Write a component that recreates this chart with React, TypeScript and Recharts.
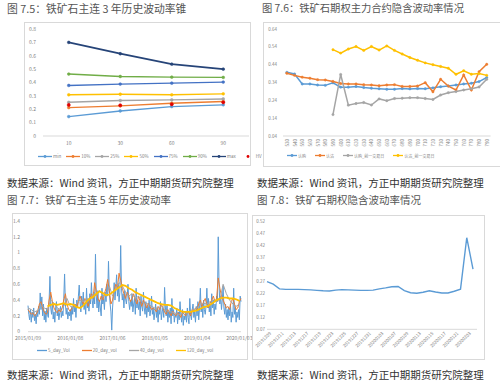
import React from "react";
import { ComposedChart, LineChart, Line, XAxis, YAxis } from "recharts";

const FONT = '"Noto Sans CJK SC", "Noto Sans", sans-serif';
const AXIS = "#d9d9d9";
const TICK_COLOR = "#7f7f7f";
const tickStyle = { fill: TICK_COLOR, fontSize: 5, fontFamily: FONT };

// 图 7.5 铁矿石主连 3 年历史波动率锥
const coneDays = ["10", "30", "60", "90"];
const coneMin = [0.145, 0.187, 0.22, 0.233];
const cone10 = [0.212, 0.225, 0.245, 0.258];
const cone25 = [0.252, 0.265, 0.27, 0.277];
const cone50 = [0.308, 0.312, 0.308, 0.315];
const cone75 = [0.378, 0.388, 0.395, 0.403];
const cone90 = [0.463, 0.445, 0.44, 0.438];
const coneMax = [0.7, 0.615, 0.537, 0.5];
const coneHV = [0.232, 0.23, 0.237, 0.252];
const coneTicks = [0, 0.1, 0.2, 0.3, 0.4, 0.5, 0.6, 0.7, 0.8];

// 图 7.6 铁矿石期权主力合约隐含波动率情况
const strikes = [
  "530", "540", "550", "560", "570", "580", "590", "600", "610", "620", "630", "640", "650", "660",
  "670", "680", "690", "700", "710", "720", "730", "740", "750", "760", "770", "780", "790",
];
const callIV = [
  0.397, 0.388, 0.332, 0.332, 0.326, 0.324, 0.338, 0.314, 0.314, 0.318, 0.312, 0.308, 0.305, 0.302,
  0.302, 0.306, 0.304, 0.306, 0.305, 0.31, 0.316, 0.32, 0.326, 0.332, 0.336, 0.345, 0.368,
];
const putIV = [
  0.392, 0.38, 0.37, 0.364, 0.356, 0.354, 0.346, 0.334, 0.332, 0.332, 0.328, 0.326, 0.322, 0.326,
  0.328, 0.318, 0.318, 0.32, 0.339, 0.288, 0.358, 0.32, 0.298, 0.382, 0.298, 0.4, 0.442,
];
const callIVPrev = [
  null, null, null, null, null, null, 0.16, 0.385, 0.213, 0.222, 0.228, 0.214, 0.248, 0.238,
  0.25, 0.252, 0.255, 0.255, 0.25, 0.245, 0.27, 0.283, 0.289, 0.298, 0.305, 0.315, 0.358,
];
const putIVPrev = [
  null, null, null, null, null, null, 0.524, 0.505, 0.528, 0.542, 0.52, 0.542, 0.522, 0.545,
  0.52, 0.5, 0.48, 0.465, 0.45, 0.44, 0.43, 0.42, 0.386, 0.406, 0.386, 0.39, 0.38,
];
const strikeTicks = [0.04, 0.14, 0.24, 0.34, 0.44, 0.54, 0.64];

// 图 7.7 铁矿石主连 5 年历史波动率 (weekly grid from 2015/01/09)
const hvYearWeeks = [0, 52, 104, 156, 208, 260];
const hvYearLabels = ["2015/01/09", "2016/01/08", "2017/01/06", "2018/01/05", "2019/01/04", "2020/01/03"];
const vol5Day = [
  0.33, 0.22, 0.15, 0.28, 0.12, 0.25, 0.18, 0.3, 0.14, 0.22, 0.1, 0.26, 0.19,
  0.32, 0.22, 0.49, 0.28, 0.44, 0.2, 0.35, 0.15, 0.26, 0.12, 0.3, 0.22, 0.18,
  0.4, 0.7, 0.3, 0.22, 0.38, 0.16, 0.25, 0.12, 0.3, 0.38, 0.2, 0.28, 0.15,
  0.24, 0.32, 0.18, 0.26, 0.2, 0.42, 0.73, 0.35, 0.22, 0.3, 0.16, 0.25, 0.2,
  0.28, 0.14, 0.32, 0.22, 0.42, 0.25, 0.35, 0.18, 0.4, 0.3, 0.45, 0.59, 0.38,
  0.25, 0.45, 0.32, 0.5, 0.28, 0.36, 0.22, 0.55, 0.3, 0.42, 0.26, 0.48, 0.35,
  0.62, 0.4, 0.3, 0.5, 0.35, 0.98, 0.45, 0.3, 0.52, 0.25, 0.4, 0.3, 0.2,
  0.55, 0.35, 0.42, 0.28, 0.5, 0.38, 0.6, 0.45, 0.89, 0.5, 0.35, 0.25, 0.02,
  0.3, 0.45, 0.62, 0.4, 0.55, 0.72, 0.45, 0.6, 0.38, 0.5, 1.09, 0.55, 0.4,
  0.48, 0.3, 0.52, 0.42, 0.35, 0.45, 0.6, 0.38, 0.28, 0.4, 0.32, 0.48, 0.25,
  0.35, 0.42, 0.22, 0.55, 0.3, 0.4, 0.28, 0.38, 0.2, 0.45, 0.32, 0.26, 0.5,
  0.3, 0.22, 0.38, 0.18, 0.32, 0.25, 0.4, 0.2, 0.28, 0.45, 0.22, 0.3, 0.15,
  0.25, 0.35, 0.18, 0.3, 0.12, 0.28, 0.22, 0.38, 0.15, 0.25, 0.3, 0.18, 0.56,
  0.3, 0.2, 0.35, 0.12, 0.25, 0.18, 0.3, 0.1, 0.42, 0.2, 0.28, 0.12, 0.22,
  0.18, 0.3, 0.1, 0.25, 0.15, 0.38, 0.22, 0.12, 0.28, 0.08, 0.2, 0.15, 0.25,
  0.12, 0.3, 0.18, 0.1, 0.42, 0.22, 0.15, 0.28, 0.35, 0.18, 0.25, 0.12, 0.32,
  0.2, 0.38, 0.15, 0.3, 0.55, 0.25, 0.35, 0.18, 0.4, 0.28, 0.22, 0.32, 0.55,
  0.3, 0.42, 0.25, 0.35, 0.2, 0.48, 0.3, 0.4, 0.22, 0.35, 0.28, 0.45, 0.38,
  1.2, 0.6, 0.35, 0.45, 0.28, 0.4, 0.58, 0.3, 0.22, 0.35, 0.18, 0.28, 0.15,
  0.3, 0.2, 0.35, 0.12, 0.25, 0.18, 0.55, 0.22, 0.3, 0.12, 0.25, 0.18, 0.28,
  0.15, 0.45, 0.38,
];
// every 2 weeks
const vol20Day = [
  0.28, 0.25, 0.22, 0.24, 0.2, 0.22, 0.26, 0.35, 0.38, 0.3, 0.25, 0.22, 0.24,
  0.4, 0.5, 0.38, 0.3, 0.26, 0.24, 0.28, 0.25, 0.3, 0.4, 0.48, 0.35, 0.28,
  0.26, 0.3, 0.32, 0.35, 0.3, 0.38, 0.45, 0.4, 0.35, 0.42, 0.38, 0.32, 0.4,
  0.48, 0.42, 0.62, 0.5, 0.42, 0.38, 0.45, 0.4, 0.48, 0.55, 0.66, 0.52, 0.35,
  0.4, 0.52, 0.6, 0.55, 0.74, 0.65, 0.55, 0.48, 0.42, 0.5, 0.45, 0.38, 0.42,
  0.48, 0.4, 0.35, 0.45, 0.38, 0.32, 0.4, 0.35, 0.3, 0.36, 0.32, 0.28, 0.3,
  0.28, 0.25, 0.32, 0.28, 0.35, 0.3, 0.25, 0.22, 0.28, 0.24, 0.2, 0.26, 0.22,
  0.2, 0.24, 0.22, 0.18, 0.25, 0.22, 0.2, 0.26, 0.24, 0.2, 0.28, 0.25, 0.3,
  0.28, 0.35, 0.4, 0.32, 0.38, 0.42, 0.35, 0.3, 0.36, 0.4, 0.45, 0.38, 0.42,
  0.68, 0.55, 0.45, 0.4, 0.35, 0.3, 0.32, 0.28, 0.38, 0.42, 0.35, 0.28, 0.3,
  0.38, 0.42,
];
// every 4 weeks
const vol40Day = [
  0.3, 0.28, 0.25, 0.27, 0.33, 0.3, 0.28, 0.4, 0.36, 0.3, 0.28, 0.32, 0.42,
  0.32, 0.3, 0.36, 0.4, 0.38, 0.42, 0.4, 0.48, 0.45, 0.52, 0.46, 0.45, 0.58,
  0.45, 0.55, 0.62, 0.58, 0.5, 0.45, 0.48, 0.42, 0.45, 0.38, 0.36, 0.35, 0.32,
  0.3, 0.3, 0.32, 0.28, 0.26, 0.25, 0.24, 0.22, 0.22, 0.24, 0.23, 0.25, 0.28,
  0.3, 0.34, 0.36, 0.35, 0.38, 0.4, 0.38, 0.4, 0.6, 0.48, 0.4, 0.35, 0.32,
  0.35,
];
// every 4 weeks, from week 24
const vol120Day = [
  0.32, 0.34, 0.35, 0.34, 0.35, 0.36, 0.34, 0.35, 0.34, 0.31, 0.3, 0.33, 0.38, 0.42, 0.44,
  0.48, 0.51, 0.49, 0.46, 0.47, 0.5, 0.53, 0.56, 0.59, 0.58, 0.55, 0.53, 0.5, 0.48, 0.46,
  0.44, 0.42, 0.4, 0.38, 0.36, 0.35, 0.34, 0.34, 0.33, 0.3, 0.28, 0.26, 0.25, 0.25, 0.25,
  0.26, 0.27, 0.29, 0.31, 0.32, 0.34, 0.37, 0.4, 0.42, 0.43, 0.43, 0.42, 0.42, 0.41, 0.39,
];
const hvTicks = [0, 0.2, 0.4, 0.6, 0.8, 1, 1.2, 1.4];

// 图 7.8 铁矿石期权隐含波动率情况
const ivDates = [
  "20191209", "20191210", "20191211", "20191212", "20191213", "20191216", "20191217", "20191218",
  "20191219", "20191220", "20191223", "20191224", "20191225", "20191226", "20191227", "20191230",
  "20191231", "20200102", "20200103", "20200106", "20200107", "20200108", "20200109", "20200110",
  "20200113", "20200114", "20200115", "20200116", "20200117", "20200120", "20200121", "20200122",
  "20200203", "20200204",
];
const ivValues = [
  0.269, 0.259, 0.239, 0.237, 0.237, 0.237, 0.236, 0.235, 0.233, 0.231, 0.23, 0.234, 0.236, 0.235,
  0.234, 0.233, 0.233, 0.234, 0.239, 0.243, 0.248, 0.249, 0.232, 0.223, 0.221, 0.225, 0.231, 0.226,
  0.222, 0.222, 0.229, 0.238, 0.453, 0.322,
];
const ivAxisTicks = [0.07, 0.12, 0.17, 0.22, 0.27, 0.32, 0.37, 0.42, 0.47, 0.52];

const SOURCE = "数据来源：Wind 资讯，方正中期期货研究院整理";

function Caption({ text, left, top, size, color }: { text: string; left: number; top: number; size: number; color: string }) {
  return (
    <div style={{ position: "absolute", left, top, fontSize: size, lineHeight: 1, color, fontFamily: FONT, whiteSpace: "nowrap" }}>
      {text}
    </div>
  );
}

function Frame({ left, top, width, height, noRight, className, children }: any) {
  return (
    <div className={className} style={{ position: "absolute", left, top, width, height }}>
      <div
        style={{
          position: "absolute",
          inset: 0,
          border: `1px solid ${AXIS}`,
          borderRight: noRight ? "none" : `1px solid ${AXIS}`,
          boxSizing: "border-box",
        }}
      />
      <div style={{ position: "absolute", left: 0, top: 0 }}>{children}</div>
    </div>
  );
}

type LegendEntry = { label: string; color: string; line?: boolean; marker?: boolean };

function MiniLegend({ items, left, top, gap, fontSize, lineLen, strokeWidth }: any) {
  return (
    <div
      style={{
        position: "absolute",
        left,
        top,
        display: "flex",
        alignItems: "center",
        gap,
        fontSize,
        lineHeight: 1,
        fontFamily: FONT,
        color: TICK_COLOR,
        whiteSpace: "nowrap",
      }}
    >
      {items.map((it: LegendEntry) => (
        <div key={it.label} style={{ display: "flex", alignItems: "center", gap: 1 }}>
          <svg width={lineLen} height={5} style={{ display: "block" }}>
            {it.line !== false && (
              <line x1={0} y1={2.5} x2={lineLen} y2={2.5} stroke={it.color} strokeWidth={strokeWidth} />
            )}
            {it.marker && <circle cx={lineLen / 2} cy={2.5} r={1.4} fill={it.color} />}
          </svg>
          <span>{it.label}</span>
        </div>
      ))}
    </div>
  );
}

function StrikeTick({ x, y, payload }: any) {
  return (
    <text
      x={x}
      y={y}
      transform={`rotate(-90 ${x} ${y})`}
      textAnchor="end"
      dominantBaseline="central"
      fill={TICK_COLOR}
      fontSize={4.5}
      fontFamily={FONT}
    >
      {payload.value}
    </text>
  );
}

function DateTick({ x, y, payload }: any) {
  return (
    <text
      x={x + 3}
      y={y}
      transform={`rotate(-45 ${x + 3} ${y})`}
      textAnchor="end"
      dominantBaseline="central"
      fill={TICK_COLOR}
      fontSize={4.5}
      fontFamily={FONT}
    >
      {payload.value}
    </text>
  );
}

const fmt1 = (v: number) => String(Number(v.toFixed(1)));
const fmt2 = (v: number) => v.toFixed(2);

function ConeChart() {
  const data = coneDays.map((d, i) => ({
    d,
    min: coneMin[i],
    p10: cone10[i],
    p25: cone25[i],
    p50: cone50[i],
    p75: cone75[i],
    p90: cone90[i],
    max: coneMax[i],
    hv: coneHV[i],
  }));
  const series = [
    { key: "min", color: "#5b9bd5" },
    { key: "p10", color: "#ed7d31" },
    { key: "p25", color: "#a5a5a5" },
    { key: "p50", color: "#ffc000" },
    { key: "p75", color: "#4472c4" },
    { key: "p90", color: "#70ad47" },
    { key: "max", color: "#264478" },
  ];
  return (
    <ComposedChart width={227} height={144} data={data} margin={{ top: 7, right: 2, bottom: 10, left: 0 }}>
      <XAxis
        dataKey="d"
        scale="band"
        tick={tickStyle}
        tickLine={false}
        axisLine={{ stroke: AXIS }}
        tickSize={3}
        tickMargin={2}
        height={20}
        interval={0}
      />
      <YAxis
        domain={[0, 0.8]}
        ticks={coneTicks}
        width={19}
        tick={tickStyle}
        tickLine={false}
        axisLine={false}
        tickSize={5}
        tickMargin={2}
        tickFormatter={fmt1}
        interval={0}
      />
      {series.map((s) => (
        <Line
          key={s.key}
          dataKey={s.key}
          stroke={s.color}
          strokeWidth={s.key === "max" ? 1.8 : 1.4}
          dot={{ r: 1.4, fill: s.color, stroke: s.color, strokeWidth: 0.5 }}
          isAnimationActive={false}
        />
      ))}
      <Line
        dataKey="hv"
        stroke="none"
        dot={{ r: 1.6, fill: "#e00000", stroke: "#e00000", strokeWidth: 0.5 }}
        isAnimationActive={false}
      />
    </ComposedChart>
  );
}

function StrikeChart() {
  const data = strikes.map((k, i) => ({
    k,
    call: callIV[i],
    put: putIV[i],
    callPrev: callIVPrev[i],
    putPrev: putIVPrev[i],
  }));
  const series = [
    { key: "call", color: "#5b9bd5" },
    { key: "put", color: "#ed7d31" },
    { key: "callPrev", color: "#a5a5a5" },
    { key: "putPrev", color: "#ffc000" },
  ];
  return (
    <ComposedChart width={237} height={145} data={data} margin={{ top: 7, right: 9.4, bottom: 9, left: 0 }}>
      <XAxis
        dataKey="k"
        scale="band"
        tick={<StrikeTick />}
        tickLine={false}
        axisLine={{ stroke: AXIS }}
        tickSize={2}
        tickMargin={1}
        height={22}
        interval={0}
      />
      <YAxis
        domain={[0.04, 0.64]}
        ticks={strikeTicks}
        width={20}
        tick={{ ...tickStyle, fontSize: 4.5 }}
        tickLine={false}
        axisLine={false}
        tickSize={4}
        tickMargin={2}
        tickFormatter={fmt2}
        interval={0}
      />
      {series.map((s) => (
        <Line
          key={s.key}
          dataKey={s.key}
          stroke={s.color}
          strokeWidth={1.5}
          dot={{ r: 1.2, fill: s.color, stroke: s.color, strokeWidth: 0.4 }}
          isAnimationActive={false}
        />
      ))}
    </ComposedChart>
  );
}

function HistoryChart() {
  const d5 = vol5Day.map((v, i) => ({ w: i, v }));
  const d20 = vol20Day.map((v, i) => ({ w: i * 2, v }));
  const d40 = vol40Day.map((v, i) => ({ w: i * 4, v }));
  const d120 = vol120Day.map((v, i) => ({ w: 24 + i * 4, v }));
  return (
    <LineChart width={236} height={147} data={d5} margin={{ top: 8, right: 7, bottom: 18.3, left: 0 }}>
      <XAxis
        type="number"
        dataKey="w"
        domain={[0, 262]}
        ticks={hvYearWeeks}
        tickFormatter={(v: number) => hvYearLabels[hvYearWeeks.indexOf(v)]}
        tick={tickStyle}
        tickLine={false}
        axisLine={{ stroke: AXIS }}
        tickSize={3}
        tickMargin={2}
        height={10}
        interval={0}
      />
      <YAxis
        domain={[0, 1.4]}
        ticks={hvTicks}
        width={16}
        tick={tickStyle}
        tickLine={false}
        axisLine={false}
        tickSize={6}
        tickMargin={2}
        tickFormatter={fmt1}
        interval={0}
      />
      <Line data={d5} dataKey="v" stroke="#5b9bd5" strokeWidth={1} dot={false} isAnimationActive={false} />
      <Line data={d20} dataKey="v" stroke="#ed7d31" strokeWidth={1} dot={false} isAnimationActive={false} />
      <Line data={d40} dataKey="v" stroke="#a5a5a5" strokeWidth={1} dot={false} isAnimationActive={false} />
      <Line data={d120} dataKey="v" stroke="#ffc000" strokeWidth={1.8} dot={false} isAnimationActive={false} />
    </LineChart>
  );
}

function ImpliedChart() {
  const data = ivDates.map((date, i) => ({ date, iv: ivValues[i] }));
  return (
    <LineChart width={233} height={145} data={data} margin={{ top: 6.7, right: 8, bottom: 5.7, left: 0 }}>
      <XAxis
        dataKey="date"
        tick={<DateTick />}
        tickLine={false}
        axisLine={{ stroke: AXIS }}
        tickSize={2}
        tickMargin={1}
        height={25}
        interval={1}
        padding={{ left: 0, right: 4 }}
      />
      <YAxis
        domain={[0.07, 0.52]}
        ticks={ivAxisTicks}
        width={15}
        tick={{ ...tickStyle, fontSize: 4.5 }}
        tickLine={false}
        axisLine={false}
        tickSize={0}
        tickMargin={2}
        tickFormatter={fmt2}
        interval={0}
      />
      <Line dataKey="iv" stroke="#5b9bd5" strokeWidth={1.4} dot={false} isAnimationActive={false} />
    </LineChart>
  );
}

export default function App() {
  return (
    <div style={{ position: "absolute", left: 0, top: 0, width: 500, height: 388, background: "#fff", overflow: "hidden" }}>
      <style>{".hv-frame .recharts-surface{overflow:visible}"}</style>
      <Caption text="图 7.5：铁矿石主连 3 年历史波动率锥" left={7} top={3} size={10.8} color="#555" />
      <Caption text="图 7.6：铁矿石期权主力合约隐含波动率情况" left={262} top={3} size={10.3} color="#555" />
      <Frame left={24} top={22} width={227} height={144}>
        <ConeChart />
      </Frame>
      <MiniLegend
        left={38}
        top={154}
        gap={5}
        fontSize={4.5}
        lineLen={14}
        strokeWidth={1.3}
        items={[
          { label: "min", color: "#5b9bd5", marker: true },
          { label: "10%", color: "#ed7d31", marker: true },
          { label: "25%", color: "#a5a5a5", marker: true },
          { label: "50%", color: "#ffc000", marker: true },
          { label: "75%", color: "#4472c4", marker: true },
          { label: "90%", color: "#70ad47", marker: true },
          { label: "max", color: "#264478", marker: true },
          { label: "HV", color: "#e00000", marker: true, line: false },
        ]}
      />
      <Frame left={263} top={22} width={237} height={145} noRight>
        <StrikeChart />
      </Frame>
      <MiniLegend
        left={287}
        top={153}
        gap={9}
        fontSize={4}
        lineLen={10}
        strokeWidth={1.3}
        items={[
          { label: "认购", color: "#5b9bd5", marker: true },
          { label: "认沽", color: "#ed7d31", marker: true },
          { label: "认购_前一交易日", color: "#a5a5a5", marker: true },
          { label: "认沽_前一交易日", color: "#ffc000", marker: true },
        ]}
      />
      <Caption text={SOURCE} left={7} top={178} size={10.5} color="#333" />
      <Caption text={SOURCE} left={257} top={178} size={10.5} color="#333" />

      <Caption text="图 7.7：铁矿石主连 5 年历史波动率" left={7} top={195} size={10.5} color="#555" />
      <Caption text="图 7.8：铁矿石期权隐含波动率情况" left={257} top={195} size={10.5} color="#555" />
      <Frame className="hv-frame" left={12} top={213} width={236} height={147}>
        <HistoryChart />
      </Frame>
      <MiniLegend
        left={37}
        top={348}
        gap={12}
        fontSize={4.5}
        lineLen={10}
        strokeWidth={1.3}
        items={[
          { label: "5_day_Vol", color: "#5b9bd5" },
          { label: "20_day_vol", color: "#ed7d31" },
          { label: "40_day_vol", color: "#a5a5a5" },
          { label: "120_day_vol", color: "#ffc000" },
        ]}
      />
      <Frame left={252} top={215} width={233} height={145}>
        <ImpliedChart />
      </Frame>
      <Caption text={SOURCE} left={7} top={370} size={10.5} color="#333" />
      <Caption text={SOURCE} left={257} top={370} size={10.5} color="#333" />
    </div>
  );
}
